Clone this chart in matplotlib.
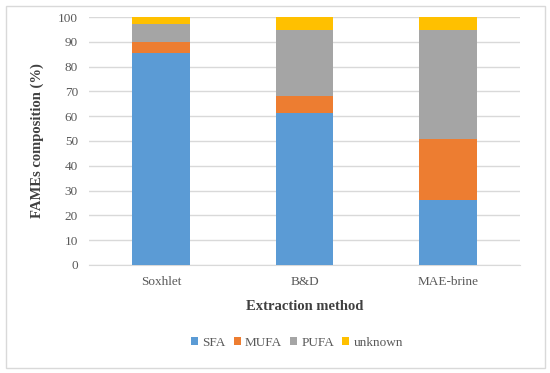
import matplotlib
matplotlib.use("Agg")
import matplotlib.pyplot as plt
from matplotlib.patches import Rectangle
import numpy as np

methods = ["Soxhlet", "B&D", "MAE-brine"]
sfa = [85.4, 61.2, 26.3]
mufa = [4.7, 6.9, 24.4]
pufa = [7.1, 26.7, 44.3]
unknown = [2.8, 5.2, 5.0]
series = ["SFA", "MUFA", "PUFA", "unknown"]
colors = ["#5b9bd5", "#ed7d31", "#a5a5a5", "#ffc000"]

plt.rcParams["font.family"] = ["Liberation Serif", "DejaVu Serif"]

fig = plt.figure(figsize=(5.5, 3.73), dpi=100)
ax = fig.add_axes([0.162, 0.290, 0.783, 0.664])

x = np.arange(len(methods))
bottom = np.zeros(len(methods))
for name, vals, c in zip(series, [sfa, mufa, pufa, unknown], colors):
    ax.bar(x, vals, 0.4, bottom=bottom, color=c, label=name, zorder=3)
    bottom += np.array(vals)

ax.set_xlim(-0.5, 2.5)
ax.set_ylim(0, 100)
ax.set_yticks(range(0, 101, 10))
ax.set_xticks(x)
ax.set_xticklabels(methods)
ax.grid(axis="y", color="#d9d9d9", linewidth=1, zorder=0)
for s in ["top", "right", "left"]:
    ax.spines[s].set_visible(False)
ax.spines["bottom"].set_color("#d9d9d9")
ax.tick_params(length=0, labelsize=9.5, colors="#595959", pad=8)

ax.set_xlabel("Extraction method", fontsize=10.5, fontweight="bold",
              color="#404040", labelpad=9)
ax.set_ylabel("FAMEs composition (%)", fontsize=10.5, fontweight="bold",
              color="#404040", labelpad=10)

leg = fig.legend(loc="center", bbox_to_anchor=(0.54, 0.081), ncol=4,
                 frameon=False, fontsize=9.5, handlelength=0.55,
                 handleheight=0.55, handletextpad=0.3, columnspacing=0.6)
for t in leg.get_texts():
    t.set_color("#595959")

fig.patches.append(Rectangle((0.011, 0.013), 0.98, 0.972, transform=fig.transFigure,
                             fill=False, edgecolor="#d9d9d9", linewidth=1))

fig.savefig("out.png", dpi=100)
